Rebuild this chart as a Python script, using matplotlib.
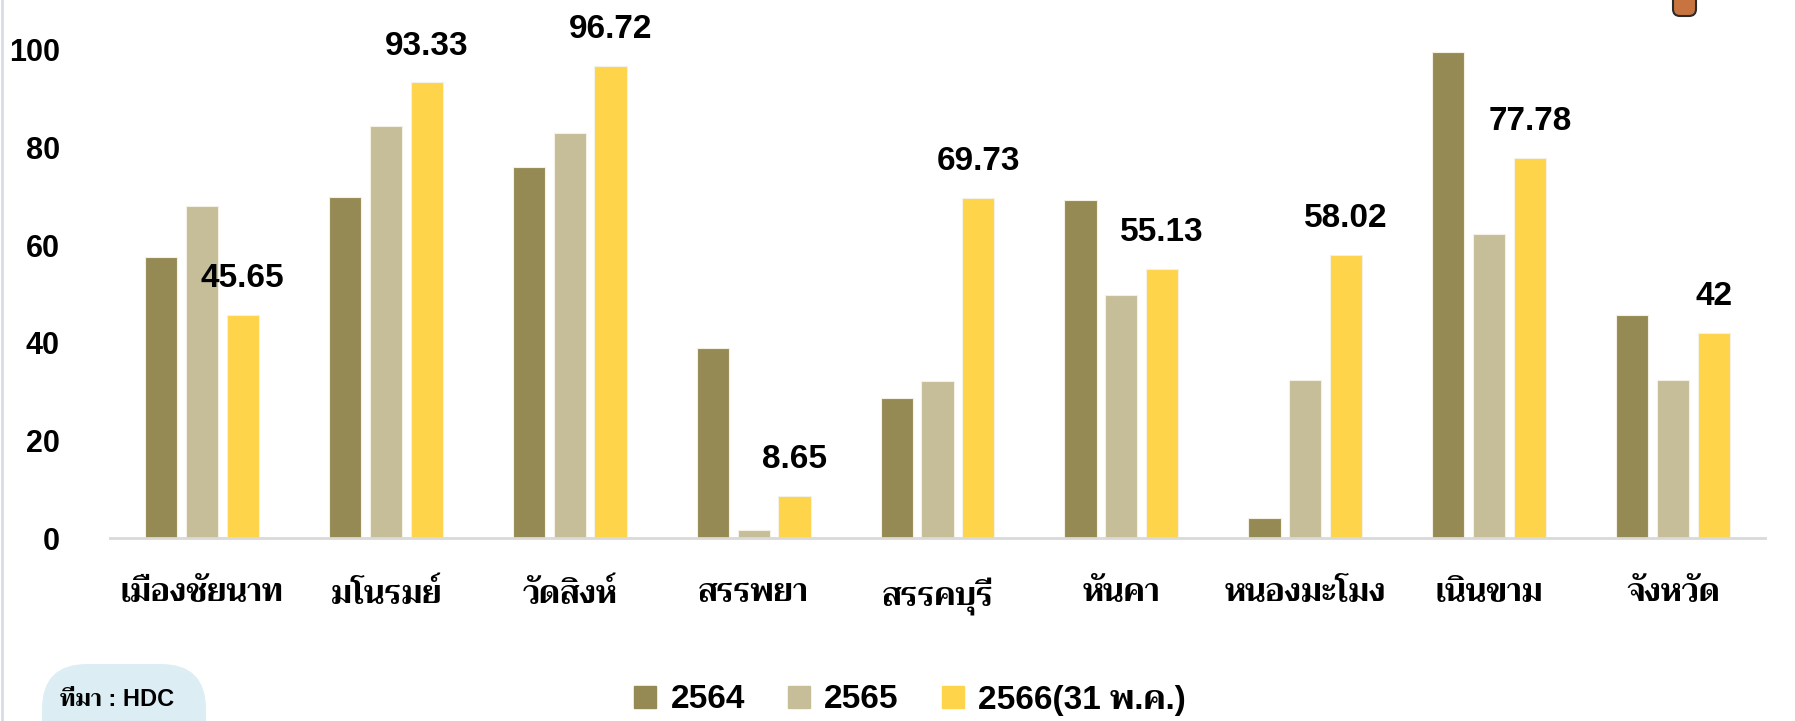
import matplotlib
matplotlib.use("Agg")
import matplotlib.pyplot as plt
import numpy as np
from matplotlib import font_manager as fm
from matplotlib.ft2font import FT2Font
from matplotlib.patches import FancyBboxPatch, Rectangle

# ---------------- data ----------------
categories = ["เมืองชัยนาท", "มโนรมย์", "วัดสิงห์", "สรรพยา", "สรรคบุรี",
              "หันคา", "หนองมะโมง", "เนินขาม", "จังหวัด"]
series_names = ["2564", "2565", "2566(31 พ.ค.)"]
values_2564 = [57.6, 69.9, 76.0, 38.9, 28.6, 69.2, 4.1, 99.6, 45.7]
values_2565 = [68.0, 84.4, 83.0, 1.6, 32.1, 49.8, 32.4, 62.3, 32.4]
values_2566 = [45.65, 93.33, 96.72, 8.65, 69.73, 55.13, 58.02, 77.78, 42]
labels_2566 = ["45.65", "93.33", "96.72", "8.65", "69.73", "55.13", "58.02", "77.78", "42"]
yticks = [0, 20, 40, 60, 80, 100]
source_text = "ที่มา : HDC"
colors = ["#968A54", "#C6BE98", "#FED44A"]

# ---------------- fonts ----------------
def find_thai_family():
    cands = []
    for f in fm.fontManager.ttflist:
        try:
            cm = FT2Font(f.fname).get_charmap()
        except Exception:
            continue
        if 0x0E01 in cm and 0x0E34 in cm and 0x0E19 in cm:
            w = f.weight if isinstance(f.weight, int) else (700 if 'bold' in str(f.weight).lower() else 400)
            cands.append((w, f.name))
    if not cands:
        return None
    cands.sort(reverse=True)
    return cands[0][1]

thai = find_thai_family()
FAM = ["Liberation Sans"] + ([thai] if thai else []) + ["DejaVu Sans"]
plt.rcParams["font.family"] = FAM
plt.rcParams["font.weight"] = "bold"

# ---------------- figure ----------------
W, H = 1795, 721
fig = plt.figure(figsize=(W / 100, H / 100), dpi=100)
fig.patch.set_facecolor("white")

ax = fig.add_axes([110 / W, (H - 538) / H, 1655 / W, 537 / H])
ax.set_facecolor("none")

x = np.arange(len(categories))
bw = 0.175
off = 0.222
all_vals = [values_2564, values_2565, values_2566]
for i, (vals, c, name) in enumerate(zip(all_vals, colors, series_names)):
    ax.bar(x + (i - 1) * off, vals, width=bw, color=c, label=name,
           edgecolor="#F4F1E4", linewidth=0.8, zorder=2)

for xi, v, lab in zip(x, values_2566, labels_2566):
    ax.annotate(lab, (xi + off, v), xytext=(0, 15), textcoords="offset points",
                ha="center", va="bottom", fontsize=24, fontweight="bold",
                color="black", annotation_clip=False)

ax.set_xlim(-0.5, len(categories) - 0.5)
ax.set_ylim(0, 110)
ax.set_yticks(yticks)
ax.set_yticklabels([str(t) for t in yticks], fontsize=22, fontweight="bold")
ax.set_xticks(x)
ax.set_xticklabels(categories, fontsize=23, fontweight="bold", family=FAM)
ax.tick_params(axis="y", length=0, pad=36)
ax.tick_params(axis="x", length=0, pad=29)
for s in ["top", "right", "left"]:
    ax.spines[s].set_visible(False)
ax.spines["bottom"].set_color("#D9D9D9")
ax.spines["bottom"].set_linewidth(2)
ax.spines["bottom"].set_zorder(3)

# legend
handles = [Rectangle((0, 0), 1, 1, color=c) for c in colors]
fig.legend(handles, series_names, loc="center", bbox_to_anchor=(0.507, 1 - 700 / H),
           ncol=3, frameon=False, prop={"family": FAM, "weight": "bold", "size": 24},
           handlelength=0.66, handleheight=0.66, handletextpad=0.42, columnspacing=1.3)

# decorations in pixel coordinates
deco = fig.add_axes([0, 0, 1, 1], zorder=-1)
deco.set_xlim(0, W)
deco.set_ylim(H, 0)
deco.axis("off")
deco.add_patch(FancyBboxPatch((42, 664), 164, 110, boxstyle="round,pad=0,rounding_size=45",
                              facecolor="#DCEEF4", edgecolor="none"))
deco.text(117, 700, source_text, ha="center", va="center", fontsize=17,
          fontweight="bold", family=FAM)
deco.plot([1.5, 1.5], [0, H], color="#D5DCE3", lw=2)
deco.add_patch(FancyBboxPatch((1673, -12), 23, 28, boxstyle="round,pad=0,rounding_size=7",
                              facecolor="#C87441", edgecolor="#2b2b2b", lw=1.5))

fig.savefig("out.png", dpi=100)
